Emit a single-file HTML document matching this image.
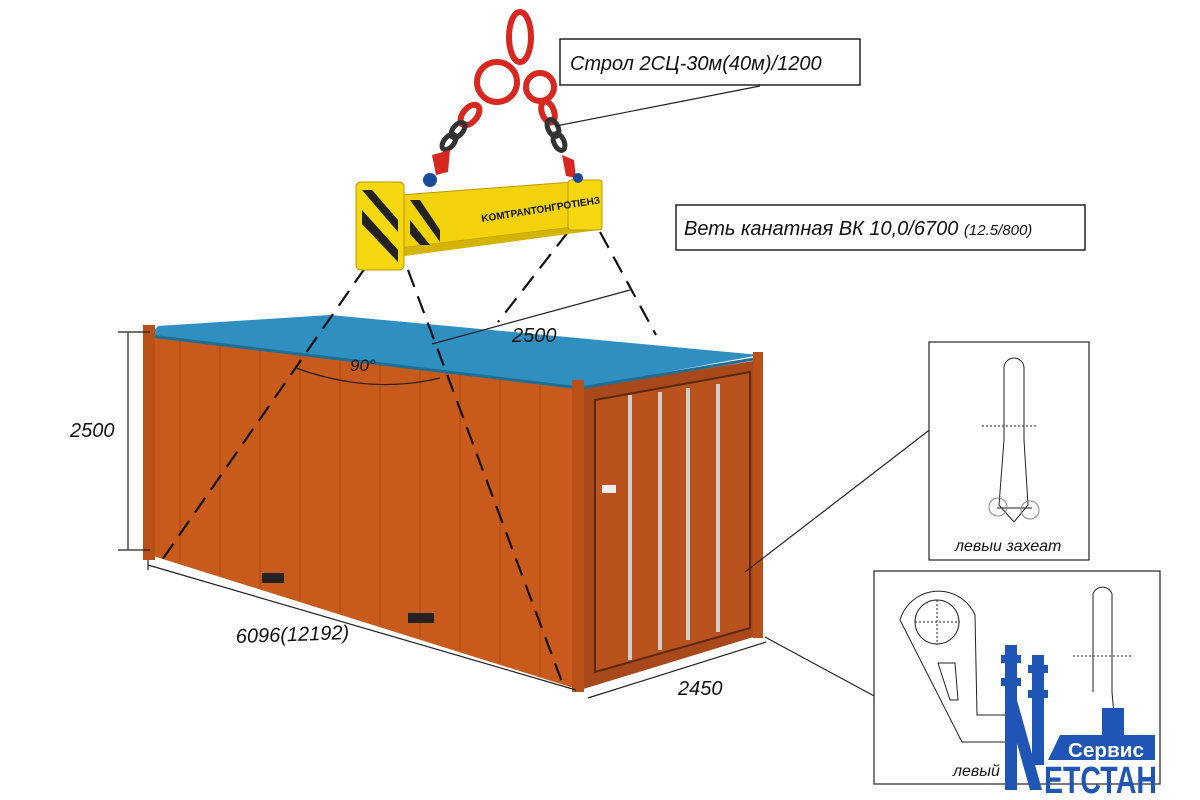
<!DOCTYPE html>
<html><head><meta charset="utf-8"><style>
html,body{margin:0;padding:0;background:#fff;}
svg{display:block;font-family:"Liberation Sans",sans-serif;}
</style></head><body>
<svg width="1200" height="800" viewBox="0 0 1200 800" xmlns="http://www.w3.org/2000/svg">
<rect width="1200" height="800" fill="#fff"/>
<!-- container -->
<polygon points="150,335 580,388 580,690 150,555" fill="#c85a1c"/>
<g stroke="#a9470f" stroke-width="1.5" opacity="0.6">
<line x1="180" y1="340" x2="180" y2="562"/><line x1="220" y1="345" x2="220" y2="575"/><line x1="260" y1="350" x2="260" y2="588"/><line x1="300" y1="355" x2="300" y2="600"/><line x1="340" y1="360" x2="340" y2="613"/><line x1="380" y1="365" x2="380" y2="625"/><line x1="420" y1="370" x2="420" y2="638"/><line x1="460" y1="375" x2="460" y2="650"/><line x1="500" y1="380" x2="500" y2="663"/><line x1="540" y1="384" x2="540" y2="676"/>
</g>
<polygon points="580,388 760,360 760,635 580,690" fill="#a9481a"/>
<polygon points="595,400 750,372 750,628 595,672" fill="#b9521d" stroke="#5a2a10" stroke-width="2"/>
<g stroke="#cfcfcf" stroke-width="4">
<line x1="630" y1="395" x2="630" y2="660"/><line x1="660" y1="392" x2="660" y2="650"/><line x1="688" y1="388" x2="688" y2="640"/><line x1="718" y1="384" x2="718" y2="632"/>
</g>
<rect x="602" y="485" width="14" height="8" fill="#eee"/>
<polygon points="150,336 158,326 330,315 760,355 580,388" fill="#2f8fc0"/>
<polyline points="150,336 580,388 760,358" fill="none" stroke="#1d6f96" stroke-width="3"/>
<rect x="143" y="325" width="12" height="235" fill="#b85018"/>
<rect x="572" y="380" width="12" height="312" fill="#b85018"/>
<rect x="753" y="352" width="10" height="286" fill="#b85018"/>
<rect x="262" y="573" width="22" height="10" fill="#222"/>
<rect x="408" y="613" width="26" height="10" fill="#222"/>
<!-- dashed lines -->
<g stroke="#111" stroke-width="2.2" stroke-dasharray="18,10" fill="none">
<line x1="365" y1="268" x2="162" y2="560"/>
<line x1="408" y1="270" x2="562" y2="682"/>
<line x1="568" y1="232" x2="498" y2="322"/>
<line x1="600" y1="232" x2="656" y2="335"/>
</g>
<path d="M296,368 Q370,395 440,378" fill="none" stroke="#222" stroke-width="1.2"/>
<!-- beam -->
<polygon points="400,195 598,180 598,224 400,248" fill="#f2d20a" stroke="#b89a00"/>
<polygon points="400,248 598,224 598,230 405,256" fill="#d4b400"/>
<rect x="356" y="182" width="48" height="88" rx="5" fill="#f5d80f" stroke="#b89a00"/>
<g fill="#222"><polygon points="362,190 372,190 398,220 398,232"/><polygon points="362,210 362,224 398,262 398,250"/><polygon points="410,200 420,200 440,230 440,242"/><polygon points="410,220 410,234 420,245 430,245"/></g>
<rect x="568" y="180" width="34" height="50" rx="3" fill="#f5d80f" stroke="#b89a00"/>
<text x="482" y="222" font-size="10" font-weight="bold" transform="rotate(-9 482 222)" fill="#111">KOMTPANTOHГPOTIEHЗ</text>
<!-- chain -->
<g fill="none" stroke="#d8271e" stroke-width="6">
<ellipse cx="520" cy="37" rx="11" ry="25"/>
<circle cx="497" cy="82" r="20"/><circle cx="540" cy="87" r="14"/>
<ellipse cx="470" cy="115" rx="7" ry="12" transform="rotate(40 470 115)"/>
<ellipse cx="548" cy="112" rx="6" ry="11" transform="rotate(-20 548 112)"/>
</g>
<g fill="none" stroke="#333" stroke-width="5">
<ellipse cx="458" cy="130" rx="5" ry="9" transform="rotate(40 458 130)"/>
<ellipse cx="449" cy="142" rx="5" ry="9" transform="rotate(40 449 142)"/>
<ellipse cx="553" cy="128" rx="5" ry="9" transform="rotate(-25 553 128)"/>
<ellipse cx="559" cy="142" rx="5" ry="9" transform="rotate(-25 559 142)"/>
</g>
<g fill="#d8271e"><polygon points="432,155 450,150 448,172 436,175"/><polygon points="562,155 574,160 576,178 566,176"/></g>
<circle cx="430" cy="180" r="7" fill="#1a4a9a"/><circle cx="578" cy="178" r="5" fill="#1a4a9a"/>
<!-- dimensions -->
<g stroke="#222" stroke-width="1.2">
<line x1="128" y1="332" x2="128" y2="550"/><line x1="118" y1="332" x2="150" y2="332"/><line x1="118" y1="550" x2="150" y2="550"/>
<line x1="148" y1="565" x2="576" y2="690"/><line x1="148" y1="560" x2="148" y2="570"/>
<line x1="588" y1="698" x2="766" y2="642"/>
<line x1="432" y1="344" x2="630" y2="290"/>
<line x1="556" y1="126" x2="760" y2="86"/>
<line x1="745" y1="572" x2="932" y2="428"/>
<line x1="765" y1="637" x2="876" y2="697"/>
</g>
<g font-style="italic" font-size="20" fill="#111">
<text x="70" y="437">2500</text>
<text x="236" y="643" transform="rotate(-2 236 643)">6096(12192)</text>
<text x="678" y="695">2450</text>
<text x="512" y="342">2500</text>
<text x="350" y="371" font-size="17">90°</text>
</g>
<rect x="560" y="39" width="300" height="46" fill="#fff" stroke="#222" stroke-width="1.5"/>
<text x="570" y="70" font-size="20" font-style="italic" fill="#111">Строл 2СЦ-30м(40м)/1200</text>
<rect x="676" y="205" width="409" height="45" fill="#fff" stroke="#222" stroke-width="1.5"/>
<text x="684" y="235" font-size="20" font-style="italic" fill="#111">Веть канатная ВК 10,0/6700 <tspan font-size="15">(12.5/800)</tspan></text>
<!-- detail 1 -->
<rect x="929" y="342" width="160" height="218" fill="#fff" stroke="#222" stroke-width="1.2"/>
<g fill="none" stroke="#222" stroke-width="1">
<path d="M1004,440 L1004,368 A10,10 0 0 1 1024,368 L1024,440 L1028,505 L1014,522 L999,505 Z"/>
<line x1="982" y1="426" x2="1036" y2="426" stroke-dasharray="2,2"/>
<line x1="997" y1="508" x2="1032" y2="508"/>
<circle cx="998" cy="507" r="9" stroke="#888"/><circle cx="1030" cy="510" r="9" stroke="#888"/>
</g>
<text x="955" y="551" font-size="16" font-style="italic" fill="#111">левыи захеат</text>
<!-- detail 2 -->
<rect x="874" y="571" width="286" height="213" fill="#fff" stroke="#222" stroke-width="1.2"/>
<g fill="none" stroke="#222" stroke-width="1">
<path d="M900,620 A40,40 0 0 1 975,615 L977,715 L1010,715 L1010,742 L962,742 Z"/>
<circle cx="937" cy="622" r="22"/>
<line x1="915" y1="622" x2="960" y2="622" stroke-dasharray="2,2"/><line x1="937" y1="600" x2="937" y2="645" stroke-dasharray="2,2"/>
<path d="M938,663 L955,663 L958,700 L950,700 Z"/>
<path d="M1093,692 L1093,594 A10,10 0 0 1 1112,594 L1112,692 L1116,738"/>
<line x1="1073" y1="656" x2="1131" y2="656" stroke-dasharray="2,2"/>
</g>
<text x="953" y="776" font-size="16" font-style="italic" fill="#111">левый</text>
<!-- logo -->
<g fill="#1f55b5">
<rect x="1005" y="645" width="12" height="145"/><rect x="1032" y="655" width="12" height="110"/>
<rect x="1001" y="655" width="20" height="8"/><rect x="1028" y="665" width="20" height="8"/>
<rect x="1001" y="678" width="20" height="8"/><rect x="1028" y="690" width="20" height="8"/>
<polygon points="1005,700 1017,700 1042,790 1030,790"/>
<rect x="1102" y="708" width="22" height="30"/>
<path d="M1048,760 L1060,735 L1155,735 L1155,760 Z"/>
</g>
<text x="1068" y="757" font-size="20" font-weight="bold" fill="#fff" textLength="76" lengthAdjust="spacingAndGlyphs">Сервис</text>
<text x="1044" y="793" font-size="38" font-weight="bold" fill="#1f55b5" textLength="113" lengthAdjust="spacingAndGlyphs">ЕТСТАН</text>
</svg>
</body></html>
